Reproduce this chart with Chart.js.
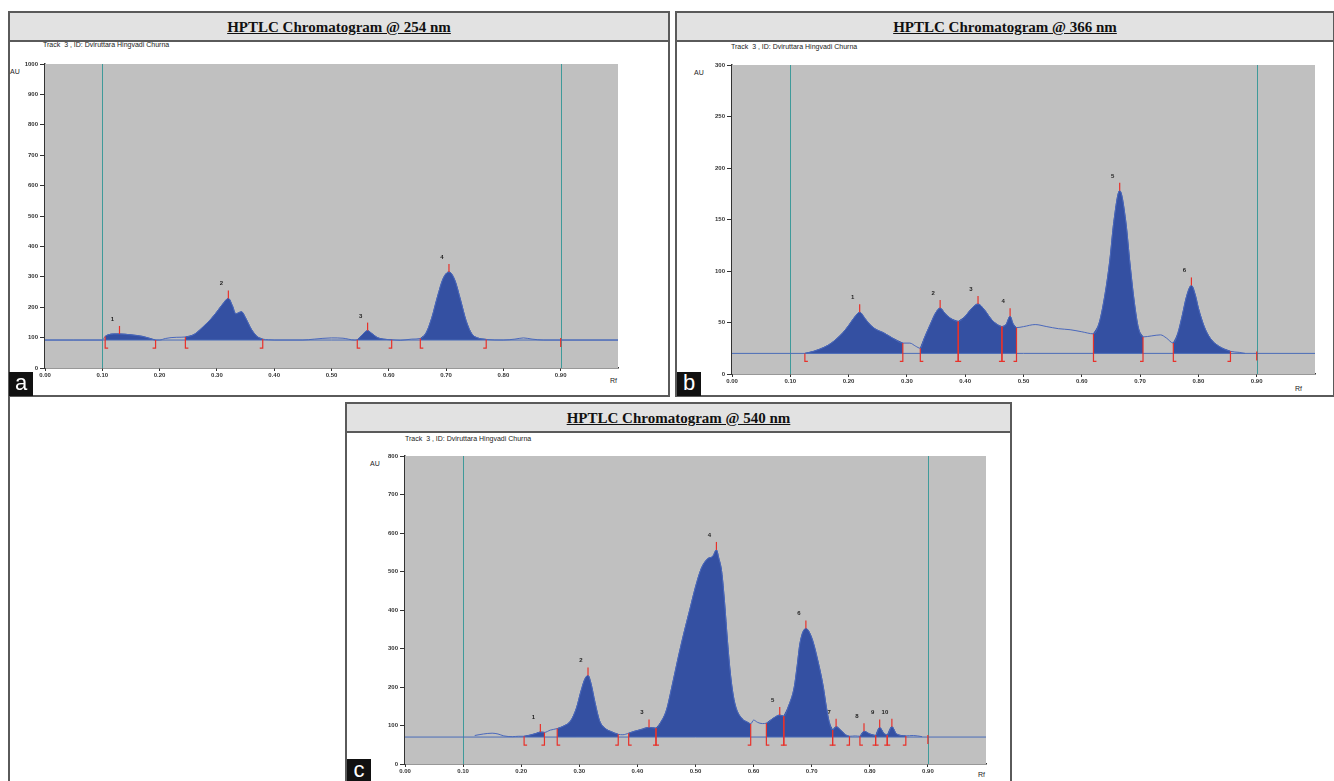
<!DOCTYPE html>
<html>
<head>
<meta charset="utf-8">
<script src="https://cdn.jsdelivr.net/npm/chart.js@4.4.0/dist/chart.umd.min.js"></script>
<style>
body { margin: 0; background: #fff; font-family: "Liberation Sans", Arial, sans-serif; }
#page { position: relative; width: 1334px; height: 781px; overflow: hidden; }
.panel { position: absolute; border: 2px solid #5a5a5a; box-sizing: border-box; background: #fff; }
.head { position: absolute; left: 0; right: 0; top: 0; height: 27px; background: #e2e2e2; border-bottom: 2px solid #5a5a5a;
  text-align: center; font: bold 15px "Liberation Serif", "Times New Roman", serif; line-height: 29px; color: #111; }
.head span { text-decoration: underline; }
.txt { position: absolute; font-size: 7px; color: #222; white-space: nowrap; }
.tag { position: absolute; background: #111; color: #fff; font: 22px "Liberation Sans", Arial, sans-serif;
  width: 24px; height: 24px; line-height: 21px; text-align: center; }
canvas { position: absolute; }
</style>
</head>
<body>
<div id="page">
  <div class="panel" style="left:8px;top:11px;width:662px;height:386px"><div class="head"><span>HPTLC Chromatogram @ 254 nm</span></div></div>
  <div class="panel" style="left:675px;top:11px;width:660px;height:386px"><div class="head"><span>HPTLC Chromatogram @ 366 nm</span></div></div>
  <div class="panel" style="left:345px;top:402px;width:667px;height:385px"><div class="head"><span>HPTLC Chromatogram @ 540 nm</span></div></div>
  <div style="position:absolute;left:8px;top:396px;width:2px;height:385px;background:#5a5a5a"></div>

  <div class="txt" style="left:43px;top:41px">Track &nbsp;3 , ID: Dviruttara Hingvadi Churna</div>
  <div class="txt" style="left:731px;top:43px">Track &nbsp;3 , ID: Dviruttara Hingvadi Churna</div>
  <div class="txt" style="left:405px;top:435px">Track &nbsp;3 , ID: Dviruttara Hingvadi Churna</div>
  <div class="txt" style="left:10px;top:68px">AU</div>
  <div class="txt" style="left:694px;top:69px">AU</div>
  <div class="txt" style="left:370px;top:460px">AU</div>
  <div class="txt" style="left:610px;top:377px">Rf</div>
  <div class="txt" style="left:1295px;top:385px">Rf</div>
  <div class="txt" style="left:978px;top:771px">Rf</div>

  <canvas id="chartA" width="609" height="326" style="left:15px;top:56px"></canvas>
  <canvas id="chartB" width="619" height="331" style="left:702px;top:57px"></canvas>
  <canvas id="chartC" width="617" height="330" style="left:375px;top:448px"></canvas>

  <div class="tag" style="left:9px;top:372px">a</div>
  <div class="tag" style="left:677px;top:372px">b</div>
  <div class="tag" style="left:347px;top:759px">c</div>
</div>

<script>
// Rf ticks shared by the three scans
const rfTicks = [0, 0.1, 0.2, 0.3, 0.4, 0.5, 0.6, 0.7, 0.8, 0.9];
const rfTickLabels = ['0.00', '0.10', '0.20', '0.30', '0.40', '0.50', '0.60', '0.70', '0.80', '0.90'];
const frontRf = [0.1, 0.9];

// ---- 254 nm ----
const aRf = [0, 0.05, 0.10, 0.105, 0.11, 0.12, 0.13, 0.14, 0.15, 0.16, 0.17, 0.18, 0.193, 0.20, 0.21, 0.22, 0.23, 0.245,
  0.26, 0.27, 0.28, 0.29, 0.30, 0.31, 0.32, 0.327, 0.333, 0.338, 0.343, 0.35, 0.36, 0.37, 0.38, 0.39, 0.40, 0.45, 0.47,
  0.50, 0.52, 0.54, 0.545, 0.553, 0.563, 0.57, 0.58, 0.59, 0.605, 0.62, 0.64, 0.655, 0.665, 0.675, 0.685, 0.695, 0.705,
  0.715, 0.725, 0.735, 0.745, 0.755, 0.77, 0.80, 0.82, 0.835, 0.85, 0.87, 0.90, 1.0];
const aAU = [92, 92, 92, 104, 109, 112, 112, 111, 109, 107, 104, 99, 92, 92, 97, 100, 101, 102,
  110, 125, 143, 162, 185, 210, 229, 205, 178, 182, 185, 165, 128, 104, 95, 93, 92, 92, 95,
  99, 98, 92, 93, 108, 123, 114, 100, 95, 93, 91, 95, 97, 115, 165, 235, 295, 316,
  290, 225, 155, 112, 99, 94, 92, 95, 99, 95, 92, 92, 92];
const aBase = 92;
const aPeakStart = [0.105, 0.245, 0.545, 0.655];
const aPeakEnd = [0.193, 0.38, 0.605, 0.77];
const aPeakRf = [0.13, 0.32, 0.563, 0.705];
const aPeakNo = ['1', '2', '3', '4'];
const aYTicks = [0, 100, 200, 300, 400, 500, 600, 700, 800, 900, 1000];

// ---- 366 nm ----
const bRf = [0.125, 0.14, 0.15, 0.165, 0.175, 0.19, 0.20, 0.21, 0.219, 0.228, 0.235, 0.245, 0.26, 0.275, 0.293, 0.305,
  0.315, 0.323, 0.33, 0.34, 0.35, 0.357, 0.365, 0.375, 0.388, 0.40, 0.41, 0.422, 0.432, 0.445, 0.455, 0.463, 0.47,
  0.477, 0.482, 0.488, 0.50, 0.52, 0.54, 0.56, 0.58, 0.60, 0.62, 0.63, 0.64, 0.648, 0.655, 0.665, 0.675, 0.683, 0.69,
  0.697, 0.705, 0.72, 0.735, 0.745, 0.757, 0.765, 0.772, 0.78, 0.788, 0.795, 0.80, 0.81, 0.82, 0.835, 0.855, 0.87, 0.88];
const bAU = [20, 22, 24, 28, 32, 40, 47, 55, 60, 54, 49, 44, 40, 35, 30, 30,
  27, 25, 35, 48, 60, 64, 59, 54, 51, 56, 63, 68, 63, 53, 48, 46, 48,
  56, 49, 45, 46, 48, 46, 44, 43, 41, 39, 50, 78, 110, 148, 178, 150, 105, 70,
  45, 36, 37, 38, 35, 30, 40, 56, 76, 86, 76, 64, 46, 35, 27, 22, 21, 20];
const bBase = 20;
const bPeakStart = [0.125, 0.323, 0.388, 0.463, 0.62, 0.757];
const bPeakEnd = [0.293, 0.388, 0.463, 0.488, 0.705, 0.855];
const bPeakRf = [0.219, 0.357, 0.422, 0.477, 0.665, 0.788];
const bPeakNo = ['1', '2', '3', '4', '5', '6'];
const bYTicks = [0, 50, 100, 150, 200, 250, 300];

// ---- 540 nm ----
const cRf = [0.12, 0.135, 0.15, 0.16, 0.17, 0.185, 0.195, 0.205, 0.215, 0.225, 0.233, 0.24, 0.25, 0.262, 0.275, 0.285,
  0.295, 0.303, 0.31, 0.315, 0.32, 0.327, 0.335, 0.345, 0.355, 0.367, 0.375, 0.385, 0.395, 0.405, 0.42, 0.432, 0.44,
  0.45, 0.46, 0.47, 0.48, 0.49, 0.50, 0.51, 0.52, 0.53, 0.536, 0.54, 0.545, 0.55, 0.555, 0.56, 0.565, 0.57, 0.58, 0.59,
  0.595, 0.60, 0.607, 0.615, 0.622, 0.635, 0.645, 0.652, 0.66, 0.67, 0.675, 0.68, 0.69, 0.70, 0.71, 0.72, 0.725, 0.73,
  0.736, 0.742, 0.75, 0.758, 0.765, 0.775, 0.783, 0.79, 0.80, 0.81, 0.817, 0.824, 0.83, 0.838, 0.846, 0.862, 0.875, 0.89];
const cAU = [74, 78, 80, 78, 73, 71, 72, 72, 75, 79, 83, 82, 88, 92, 100, 112,
  145, 190, 222, 230, 210, 160, 112, 92, 84, 77, 76, 80, 85, 89, 95, 93, 108,
  140, 205, 275, 340, 400, 460, 508, 532, 540, 556, 535, 500, 420, 320, 235, 178, 145, 118, 108,
  104, 114, 108, 105, 106, 120, 127, 124, 150, 200, 255, 315, 352, 328, 272, 200, 150, 110,
  88, 97, 88, 76, 72, 73, 72, 85, 78, 74, 95, 80, 75, 97, 78, 73, 74, 71];
const cBase = 70;
const cPeakStart = [0.205, 0.262, 0.385, 0.432, 0.622, 0.652, 0.736, 0.783, 0.81, 0.83];
const cPeakEnd = [0.24, 0.367, 0.432, 0.595, 0.652, 0.736, 0.765, 0.81, 0.83, 0.862];
const cPeakRf = [0.233, 0.315, 0.42, 0.536, 0.645, 0.69, 0.742, 0.79, 0.817, 0.838];
const cPeakNo = ['1', '2', '3', '4', '5', '6', '7', '8', '9', '10'];
const cYTicks = [0, 100, 200, 300, 400, 500, 600, 700, 800];

const FILL = '#3450a2';
const LINE = '#4a68bc';
const RED = '#e8312a';
const tickFont = { family: 'Liberation Sans', size: 6, weight: 'bold' };

function drawChromatogram(canvasId, rf, au, base, starts, ends, peakRf, peakNo, yTicks) {
  const curve = rf.map((x, i) => ({ x: x, y: au[i] }));
  const valueAt = x => {
    const i = rf.indexOf(x);
    return i >= 0 ? au[i] : base;
  };

  const datasets = [];
  datasets.push({
    data: [{ x: 0, y: base }, { x: 1, y: base }],
    borderColor: '#4a6cb8', borderWidth: 1, pointRadius: 0, order: 0
  });
  datasets.push({
    data: curve, borderColor: LINE, borderWidth: 1, pointRadius: 0,
    cubicInterpolationMode: 'monotone', order: 1
  });
  starts.forEach((s, k) => {
    datasets.push({
      data: curve.filter(p => p.x >= s && p.x <= ends[k]),
      borderColor: FILL, backgroundColor: FILL, borderWidth: 1, pointRadius: 0,
      cubicInterpolationMode: 'monotone', fill: { value: base }, order: 2
    });
  });

  const marks = {
    id: 'marks',
    beforeDatasetsDraw(chart) {
      const { ctx, chartArea: a, scales: { x } } = chart;
      ctx.save();
      ctx.fillStyle = '#c0c0c0';
      ctx.fillRect(a.left, a.top, a.right - a.left, a.bottom - a.top);
      ctx.strokeStyle = '#3f9a9a';
      ctx.lineWidth = 1;
      frontRf.forEach(f => {
        const px = Math.round(x.getPixelForValue(f)) + 0.5;
        ctx.beginPath(); ctx.moveTo(px, a.top); ctx.lineTo(px, a.bottom); ctx.stroke();
      });
      ctx.restore();
    },
    afterDatasetsDraw(chart) {
      const { ctx, scales: { x, y } } = chart;
      const by = y.getPixelForValue(base);
      ctx.save();
      ctx.strokeStyle = RED;
      ctx.lineWidth = 1.2;
      const bracket = (r, dir) => {
        const px = x.getPixelForValue(r);
        const top = Math.min(y.getPixelForValue(valueAt(r)), by);
        ctx.beginPath();
        ctx.moveTo(px, top); ctx.lineTo(px, by + 8); ctx.lineTo(px + dir * 3, by + 8);
        ctx.stroke();
      };
      starts.forEach(s => bracket(s, 1));
      ends.forEach(e => bracket(e, -1));
      const fx = x.getPixelForValue(0.9);
      ctx.beginPath(); ctx.moveTo(fx, by - 2); ctx.lineTo(fx, by + 7); ctx.stroke();

      ctx.fillStyle = '#222';
      ctx.font = 'bold 6px "Liberation Sans", Arial, sans-serif';
      ctx.textAlign = 'center';
      peakRf.forEach((r, k) => {
        const px = x.getPixelForValue(r);
        const py = y.getPixelForValue(valueAt(r));
        ctx.beginPath(); ctx.moveTo(px, py); ctx.lineTo(px, py - 8); ctx.stroke();
        ctx.fillText(peakNo[k], px - 7, py - 13);
      });
      ctx.restore();
    }
  };

  new Chart(document.getElementById(canvasId), {
    type: 'line',
    data: { datasets: datasets },
    plugins: [marks],
    options: {
      responsive: false,
      animation: false,
      devicePixelRatio: 1,
      layout: { padding: { top: 8, right: 6, left: 0, bottom: 0 } },
      plugins: { legend: { display: false }, tooltip: { enabled: false } },
      scales: {
        x: {
          type: 'linear', min: 0, max: 1,
          afterFit: s => { s.height = 14; },
          afterBuildTicks: s => { s.ticks = rfTicks.map(v => ({ value: v })); },
          ticks: {
            autoSkip: false, maxRotation: 0, padding: 1, color: '#333', font: tickFont,
            callback: v => rfTickLabels[rfTicks.indexOf(v)]
          },
          grid: { drawOnChartArea: false, drawTicks: true, tickLength: 3, color: '#333' },
          border: { color: '#333', width: 1.5 }
        },
        y: {
          min: 0, max: yTicks[yTicks.length - 1],
          afterFit: s => { s.width = 30; },
          afterBuildTicks: s => { s.ticks = yTicks.map(v => ({ value: v })); },
          ticks: { padding: 2, color: '#333', font: tickFont, callback: v => String(v) },
          grid: { drawOnChartArea: false, drawTicks: true, tickLength: 5, color: '#333' },
          border: { color: '#333', width: 1.5 }
        }
      }
    }
  });
}

drawChromatogram('chartA', aRf, aAU, aBase, aPeakStart, aPeakEnd, aPeakRf, aPeakNo, aYTicks);
drawChromatogram('chartB', bRf, bAU, bBase, bPeakStart, bPeakEnd, bPeakRf, bPeakNo, bYTicks);
drawChromatogram('chartC', cRf, cAU, cBase, cPeakStart, cPeakEnd, cPeakRf, cPeakNo, cYTicks);
</script>
</body>
</html>
